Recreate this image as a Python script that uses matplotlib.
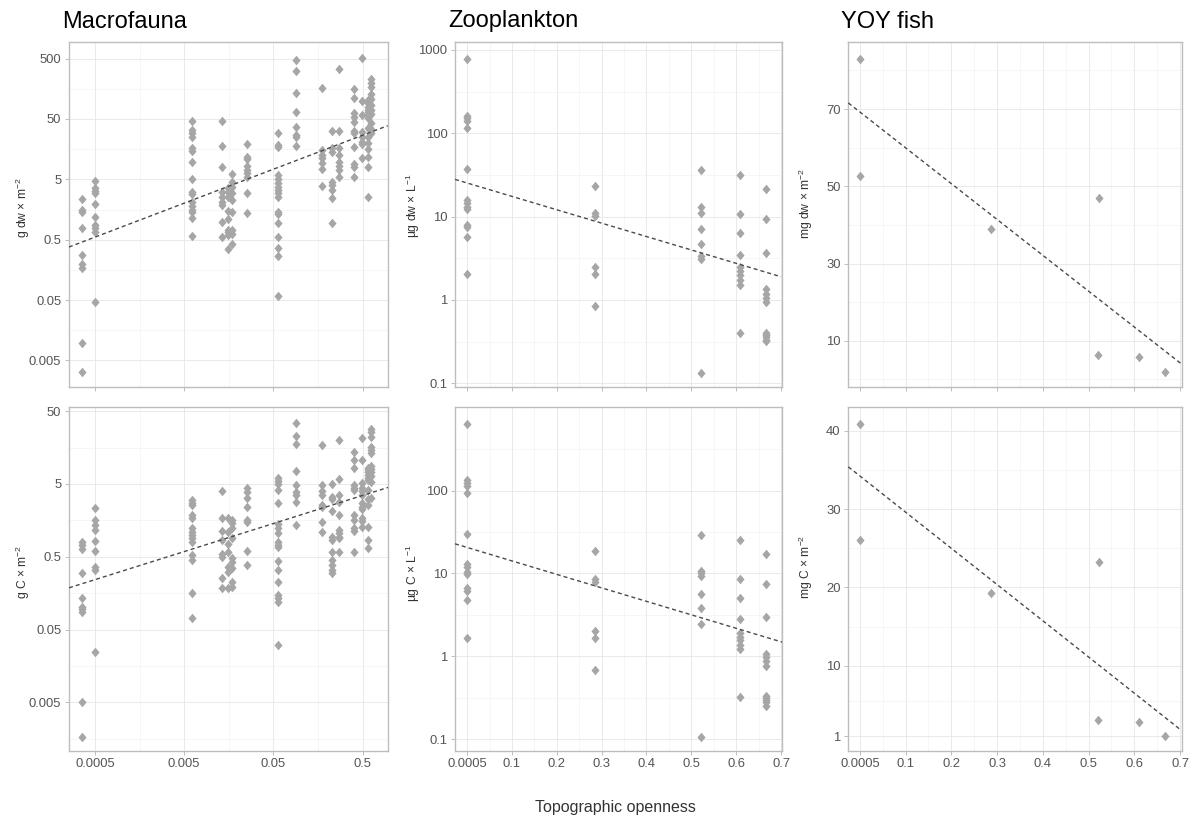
import numpy as np
import matplotlib
matplotlib.use("Agg")
from matplotlib import pyplot as plt
from matplotlib.path import Path

plt.rcParams["font.family"] = ["Liberation Sans", "DejaVu Sans"]
plt.rcParams["mathtext.fontset"] = "custom"
plt.rcParams["mathtext.rm"] = "Liberation Sans"
plt.rcParams["mathtext.it"] = "Liberation Sans:italic"

# ---- data ----
macro_sites = [0.000355, 0.0005, 0.0061, 0.0132, 0.0156, 0.0172, 0.0253, 0.0569,
               0.0886, 0.175, 0.228, 0.275, 0.404, 0.492, 0.578, 0.619]

macro_dw = [
    [2.36, 1.55, 1.46, 0.79, 0.279, 0.198, 0.168, 0.0096, 0.00316],
    [4.75, 3.55, 3.24, 2.93, 1.95, 1.20, 0.875, 0.77, 0.68, 0.047],
    [46.9, 32.9, 28.9, 25.5, 16.3, 14.9, 9.8, 5.0, 3.12, 2.86, 2.13, 1.81, 1.55, 1.46, 1.13, 0.576],
    [46.9, 17.8, 8.1, 3.12, 2.58, 2.13, 1.88, 0.99, 0.56],
    [3.54, 3.1, 2.56, 1.5, 1.12, 0.71, 0.67, 0.59, 0.354],
    [6.1, 4.56, 3.77, 2.92, 2.26, 1.44, 0.71, 0.63, 0.43],
    [19.3, 11.9, 10.7, 8.3, 7.1, 6.3, 5.5, 3.0, 1.36],
    [29.7, 18.5, 17.0, 5.9, 5.0, 4.3, 3.78, 3.33, 2.93, 2.58, 1.46, 1.33, 0.96, 0.55, 0.36, 0.27, 0.058],
    [475, 316, 133, 66, 36.4, 27.2, 24.8, 17.9],
    [161, 15.3, 12.6, 11.1, 9.4, 7.3, 3.88],
    [31.6, 16.3, 14.4, 4.57, 4.03, 3.33, 2.42, 0.93],
    [333, 31.6, 16.3, 12.6, 9.8, 8.3, 7.1, 5.5],
    [155, 110, 63.6, 53.3, 45.2, 32.1, 28.9, 17.0, 9.0, 7.9, 5.4],
    [507, 100, 58, 30.8, 25.5, 21, 19.3, 11.1],
    [103, 91, 80, 70.5, 66, 58, 51.3, 35, 25.5, 19.8, 15.7, 11.9, 7.9, 2.58],
    [227, 200, 172, 130, 106, 85, 70.5, 60.5, 43.5, 33.7, 28.9],
]

macro_c = [
    [0.81, 0.73, 0.64, 0.296, 0.134, 0.103, 0.096, 0.088, 0.005, 0.00165],
    [2.37, 1.6, 1.37, 1.17, 0.82, 0.6, 0.366, 0.329, 0.0248],
    [3.01, 2.71, 2.57, 1.87, 1.69, 1.23, 1.11, 1.0, 0.9, 0.81, 0.53, 0.45, 0.161, 0.073],
    [4.0, 1.69, 1.13, 0.85, 0.54, 0.5, 0.253, 0.184],
    [1.69, 1.11, 0.74, 0.59, 0.366, 0.31, 0.184],
    [1.6, 1.44, 1.23, 0.9, 0.475, 0.43, 0.35, 0.227, 0.194],
    [4.46, 3.84, 3.17, 2.44, 1.6, 1.52, 0.6, 0.39],
    [6.1, 5.5, 4.94, 4.14, 2.71, 1.4, 1.23, 1.05, 0.81, 0.73, 0.67, 0.44, 0.329, 0.227, 0.149, 0.134, 0.121, 0.0306],
    [34.1, 23.1, 17.5, 7.55, 4.84, 3.84, 3.53, 2.8, 1.37],
    [17.2, 4.84, 4.0, 3.53, 2.57, 2.44, 1.52, 1.11],
    [4.94, 3.35, 3.11, 2.13, 0.94, 0.85, 0.59, 0.45, 0.385, 0.329, 0.296],
    [20.1, 5.86, 3.53, 2.86, 1.87, 1.17, 1.05, 0.94, 0.9, 0.59],
    [13.9, 10.7, 8.4, 4.84, 4.46, 4.14, 1.87, 1.6, 1.26, 1.13, 0.59],
    [21.2, 10.7, 5.1, 4.46, 4.0, 3.53, 2.71, 2.44, 2.26, 1.72, 1.55, 1.3],
    [8.4, 7.8, 7.4, 6.65, 6.1, 5.67, 4.14, 3.11, 2.57, 1.3, 0.85, 0.65],
    [28.5, 25.6, 22.4, 16.3, 14.7, 13.2, 8.9, 8.0, 7.4, 6.5, 5.4, 3.17],
]

zoo_sites = [0.0005, 0.2845, 0.522, 0.609, 0.666]

zoo_dw = [
    [773, 161, 151, 142, 115, 37, 15.8, 14.5, 12.9, 12.2, 7.9, 7.6, 5.75, 2.05],
    [23.3, 11, 10.2, 2.5, 2.05, 0.85],
    [36.3, 13.2, 11.2, 7.05, 4.7, 3.37, 3.08, 0.134],
    [31.6, 10.8, 6.4, 3.47, 2.5, 2.25, 2.0, 1.74, 1.51, 0.40],
    [21.3, 9.3, 3.7, 1.34, 1.18, 1.05, 0.95, 0.406, 0.38, 0.355, 0.33, 0.32],
]

zoo_c = [
    [635, 134, 125, 114, 93, 30, 13.1, 12.1, 10.3, 9.9, 6.65, 6.2, 4.73, 1.66],
    [18.9, 8.55, 8.0, 2.0, 1.66, 0.68],
    [29.3, 10.6, 10.1, 9.2, 5.7, 3.82, 2.48, 0.107],
    [25.5, 8.55, 5.05, 2.82, 1.91, 1.71, 1.56, 1.38, 1.23, 0.32],
    [17.3, 7.5, 2.98, 1.08, 0.98, 0.87, 0.77, 0.336, 0.316, 0.295, 0.28, 0.255],
]

yoy_x = [0.0005, 0.0005, 0.286, 0.523, 0.521, 0.611, 0.667]
yoy_dw = [83, 52.7, 39.0, 47.0, 6.2, 5.7, 1.8]
yoy_c = [40.85, 26.04, 19.23, 23.2, 3.06, 2.85, 1.0]

# fitted trend lines (end points)
macro_dw_trend_x = [0.000255, 0.955]
macro_dw_trend_y = [0.377, 38.7]
macro_c_trend_x = [0.000256, 0.962]
macro_c_trend_y = [0.187, 4.48]
zoo_dw_trend_x = [-0.027, 0.70]
zoo_dw_trend_y = [28.0, 1.9]
zoo_c_trend_x = [-0.027, 0.704]
zoo_c_trend_y = [22.8, 1.48]
yoy_dw_trend_x = [-0.025, 0.704]
yoy_dw_trend_y = [71.6, 3.9]
yoy_c_trend_x = [-0.025, 0.70]
yoy_c_trend_y = [35.4, 1.87]

macro_xticks = [0.0005, 0.005, 0.05, 0.5]
macro_xlabels = ["0.0005", "0.005", "0.05", "0.5"]
open_xticks = [0.0005, 0.1, 0.2, 0.3, 0.4, 0.5, 0.6, 0.7]
open_xlabels = ["0.0005", "0.1", "0.2", "0.3", "0.4", "0.5", "0.6", "0.7"]

macro_dw_yticks = [0.005, 0.05, 0.5, 5, 50, 500]
macro_c_yticks = [0.005, 0.05, 0.5, 5, 50]
zoo_dw_yticks = [0.1, 1, 10, 100, 1000]
zoo_c_yticks = [0.1, 1, 10, 100]
yoy_dw_yticks = [10, 30, 50, 70]
yoy_c_yticks = [1, 10, 20, 30, 40]

titles = ["Macrofauna", "Zooplankton", "YOY fish"]

# ---- figure ----
W, H = 1197, 821
fig = plt.figure(figsize=(W / 100, H / 100), dpi=100)

col_px = [(69, 388), (455, 781.7), (848.3, 1181.7)]
row_px = [(42.3, 386.7), (407.3, 750.7)]
ylab_x = [22.5, 412.5, 806]

POINT = "#a6a6a6"
diamond = Path([(0, 1), (0.85, 0), (0, -1), (-0.85, 0), (0, 1)],
               [Path.MOVETO, Path.LINETO, Path.LINETO, Path.LINETO, Path.CLOSEPOLY])


def fmt(v):
    return f"{v:g}"


def minor_breaks(major, log):
    t = np.log10(major) if log else np.asarray(major, float)
    t = np.concatenate([[t[0] - (t[1] - t[0])], t, [t[-1] + (t[-1] - t[-2])]])
    m = (t[:-1] + t[1:]) / 2
    return 10 ** m if log else m


def make_ax(r, c):
    x0, x1 = col_px[c]
    y0, y1 = row_px[r]
    return fig.add_axes([x0 / W, 1 - y1 / H, (x1 - x0) / W, (y1 - y0) / H])


def style(ax, r, c, xlog, ylog, xlim, ylim, xt, xl, yt, ylab, ylab_cy):
    if xlog:
        ax.set_xscale("log")
    if ylog:
        ax.set_yscale("log")
    ax.set_xticks(xt)
    ax.set_xticklabels(xl)
    ax.set_yticks(yt)
    ax.set_yticklabels([fmt(v) for v in yt])
    ax.set_xticks(minor_breaks(xt, xlog), minor=True)
    ax.set_yticks(minor_breaks(yt, ylog), minor=True)
    ax.xaxis.set_minor_formatter(matplotlib.ticker.NullFormatter())
    ax.yaxis.set_minor_formatter(matplotlib.ticker.NullFormatter())
    ax.set_xlim(*xlim)
    ax.set_ylim(*ylim)
    ax.grid(which="major", color="#e6e6e6", lw=0.6)
    ax.grid(which="minor", color="#f1f1f1", lw=0.45)
    ax.set_axisbelow(True)
    for s in ax.spines.values():
        s.set_color("#bdbdbd")
        s.set_linewidth(1.0)
    ax.tick_params(which="major", length=3, width=0.7, color="#bdbdbd",
                   labelcolor="#555555", labelsize=9.4, pad=2.5)
    ax.tick_params(which="minor", length=0)
    if r == 0:
        ax.tick_params(axis="x", labelbottom=False)
    ax.set_ylabel(ylab, fontsize=8.7, color="#333333")
    x0, x1 = col_px[c]
    y0, y1 = row_px[r]
    ax.yaxis.set_label_coords((ylab_x[c] - x0) / (x1 - x0), (y1 - ylab_cy) / (y1 - y0))
    ax.yaxis.label.set_va("center")


def points(ax, xs, ys):
    ax.plot(xs, ys, linestyle="none", marker=diamond, markersize=6.9,
            color=POINT, markeredgewidth=0, zorder=3)


def trend(ax, tx, ty):
    ax.plot(tx, ty, color="#4a4a4a", lw=1.0, dashes=(2.9, 2.2), zorder=4)


# Macrofauna
for r, vals, tx, ty, yt, ylim, ylab, cy in [
    (0, macro_dw, macro_dw_trend_x, macro_dw_trend_y, macro_dw_yticks, (0.00183, 933),
     "g dw × m$^{-2}$", 207.5),
    (1, macro_c, macro_c_trend_x, macro_c_trend_y, macro_c_yticks, (0.00108, 56.6),
     "g C × m$^{-2}$", 571.7),
]:
    ax = make_ax(r, 0)
    for sx, sv in zip(macro_sites, vals):
        points(ax, [sx] * len(sv), sv)
    trend(ax, tx, ty)
    style(ax, r, 0, True, True, (0.000256, 0.962), ylim,
          macro_xticks, macro_xlabels, yt, ylab, cy)

# Zooplankton
for r, vals, tx, ty, yt, ylim, ylab, cy in [
    (0, zoo_dw, zoo_dw_trend_x, zoo_dw_trend_y, zoo_dw_yticks, (0.091, 1236),
     "µg dw × L$^{-1}$", 205.8),
    (1, zoo_c, zoo_c_trend_x, zoo_c_trend_y, zoo_c_yticks, (0.073, 1009),
     "µg C × L$^{-1}$", 573),
]:
    ax = make_ax(r, 1)
    for sx, sv in zip(zoo_sites, vals):
        points(ax, [sx] * len(sv), sv)
    trend(ax, tx, ty)
    style(ax, r, 1, False, True, (-0.027, 0.7015), ylim,
          open_xticks, open_xlabels, yt, ylab, cy)

# YOY fish
for r, vals, tx, ty, yt, ylim, ylab, cy in [
    (0, yoy_dw, yoy_dw_trend_x, yoy_dw_trend_y, yoy_dw_yticks, (-1.9, 87.3),
     "mg dw × m$^{-2}$", 203),
    (1, yoy_c, yoy_c_trend_x, yoy_c_trend_y, yoy_c_yticks, (-0.85, 43),
     "mg C × m$^{-2}$", 566.7),
]:
    ax = make_ax(r, 2)
    points(ax, yoy_x, vals)
    trend(ax, tx, ty)
    style(ax, r, 2, False, False, (-0.025, 0.7035), ylim,
          open_xticks, open_xlabels, yt, ylab, cy)

for c, t in enumerate(titles):
    fig.text((col_px[c][0] - 7) / W, 1 - 27.5 / H, t, fontsize=17,
             color="black", ha="left", va="baseline")

fig.text(615 / W, 1 - 811.7 / H, "Topographic openness", fontsize=11.5,
         color="#333333", ha="center", va="baseline")

fig.savefig("out.png", dpi=100)
